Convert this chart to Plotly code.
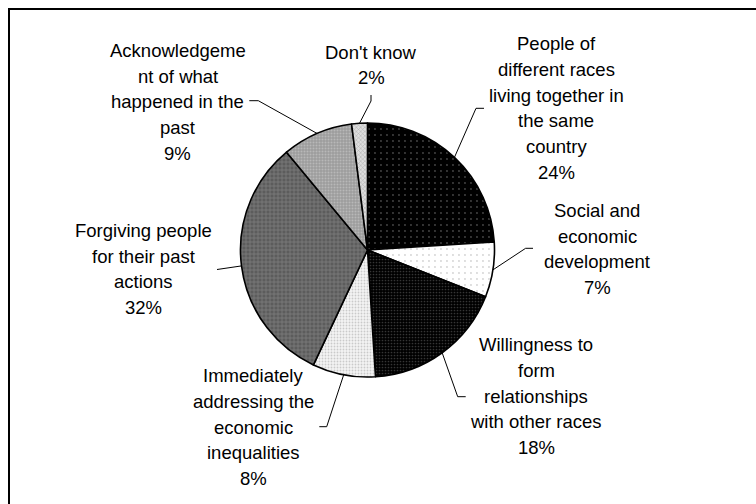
import math
import plotly.graph_objects as go

# ---- data ----
categories = [
    "People of\ndifferent races\nliving together in\nthe same\ncountry",
    "Social and\neconomic\ndevelopment",
    "Willingness to\nform\nrelationships\nwith other races",
    "Immediately\naddressing the\neconomic\ninequalities",
    "Forgiving people\nfor their past\nactions",
    "Acknowledgeme\nnt of what\nhappened in the\npast",
    "Don't know",
]
values = [24, 7, 18, 8, 32, 9, 2]

# ---- styles / layout (pixels) ----
W, H = 756, 504
CX, CY, R = 367.5, 250.0, 127.0
bgcols = ["#000000", "#ffffff", "#000000", "#f4f4f4", "#5c5c5c", "#9c9c9c", "#dedede"]
fgcols = ["#8a8a8a", "#a8a8a8", "#6a6a6a", "#a0a0a0", "#a8a8a8", "#d4d4d4", "#777777"]
shapes_p = [".", ".", ".", ".", "+", ".", "x"]
sizes_p = [6, 6, 3, 3, 4, 3, 3]
solid_p = [0.08, 0.08, 0.25, 0.3, 0.3, 0.35, 0.3]

# label centers (x, y) and leader elbow points (label side)
label_pos = [(556, 108), (597, 249), (536, 396), (253, 427), (143, 269), (177.5, 102), (371, 65)]
line_gap = 25.7
elbows = [
    [(484, 108.3), (476, 108.3)],
    [(533, 248.3), (525.6, 248.3)],
    [(465.7, 396.7), (457.7, 396.7)],
    [(319.3, 426.7), (326.7, 426.7)],
    [(217, 269.5)],
    [(249.3, 100.7), (258.3, 100.7)],
    [(371, 95), (371, 101)],
]

FONT = "Liberation Sans, Arial, sans-serif"
FS = 18.5

def px(x):
    return x / W

def py(y):
    return 1 - y / H

fig = go.Figure()
fig.add_trace(go.Pie(
    values=values,
    labels=[c.replace("\n", " ") for c in categories],
    sort=False,
    direction="clockwise",
    rotation=0,
    textinfo="none",
    hoverinfo="label+percent",
    marker=dict(
        colors=bgcols,
        line=dict(color="#000000", width=1.6),
        pattern=dict(shape=shapes_p, fgcolor=fgcols, bgcolor=bgcols,
                     size=sizes_p, solidity=solid_p, fillmode="overlay"),
    ),
    domain=dict(x=[px(CX - R), px(CX + R)], y=[py(CY + R), py(CY - R)]),
    showlegend=False,
))

total = sum(values)
annotations = []
shapes = []
cum = 0
for i, (cat, v) in enumerate(zip(categories, values)):
    mid = (cum + v / 2) / total * 2 * math.pi
    cum += v
    ex = CX + R * math.sin(mid)
    ey = CY - R * math.cos(mid)
    lines = cat.split("\n") + [f"{round(v / total * 100)}%"]
    lx, ly = label_pos[i]
    n = len(lines)
    for j, t in enumerate(lines):
        yy = ly + (j - (n - 1) / 2) * line_gap
        annotations.append(dict(
            x=px(lx), y=py(yy), xref="paper", yref="paper", text=t,
            showarrow=False, xanchor="center", yanchor="middle",
            font=dict(family=FONT, size=FS, color="#000000"),
        ))
    pts = elbows[i] + [(ex, ey)]
    path = "M " + " L ".join(f"{px(x)},{py(y)}" for x, y in pts)
    shapes.append(dict(type="path", path=path, xref="paper", yref="paper",
                       line=dict(color="#000000", width=1)))

# outer frame (only left and top visible)
shapes.append(dict(type="rect", xref="paper", yref="paper",
                   x0=px(9), y0=py(9), x1=px(780), y1=py(530),
                   line=dict(color="#000000", width=2), fillcolor="rgba(0,0,0,0)"))

fig.update_layout(
    width=W, height=H,
    margin=dict(l=0, r=0, t=0, b=0),
    paper_bgcolor="#ffffff",
    plot_bgcolor="#ffffff",
    annotations=annotations,
    shapes=shapes,
)
fig.write_html("out.html", config={"displayModeBar": False},
               post_script="document.body.style.margin='0';document.body.style.padding='0';")
